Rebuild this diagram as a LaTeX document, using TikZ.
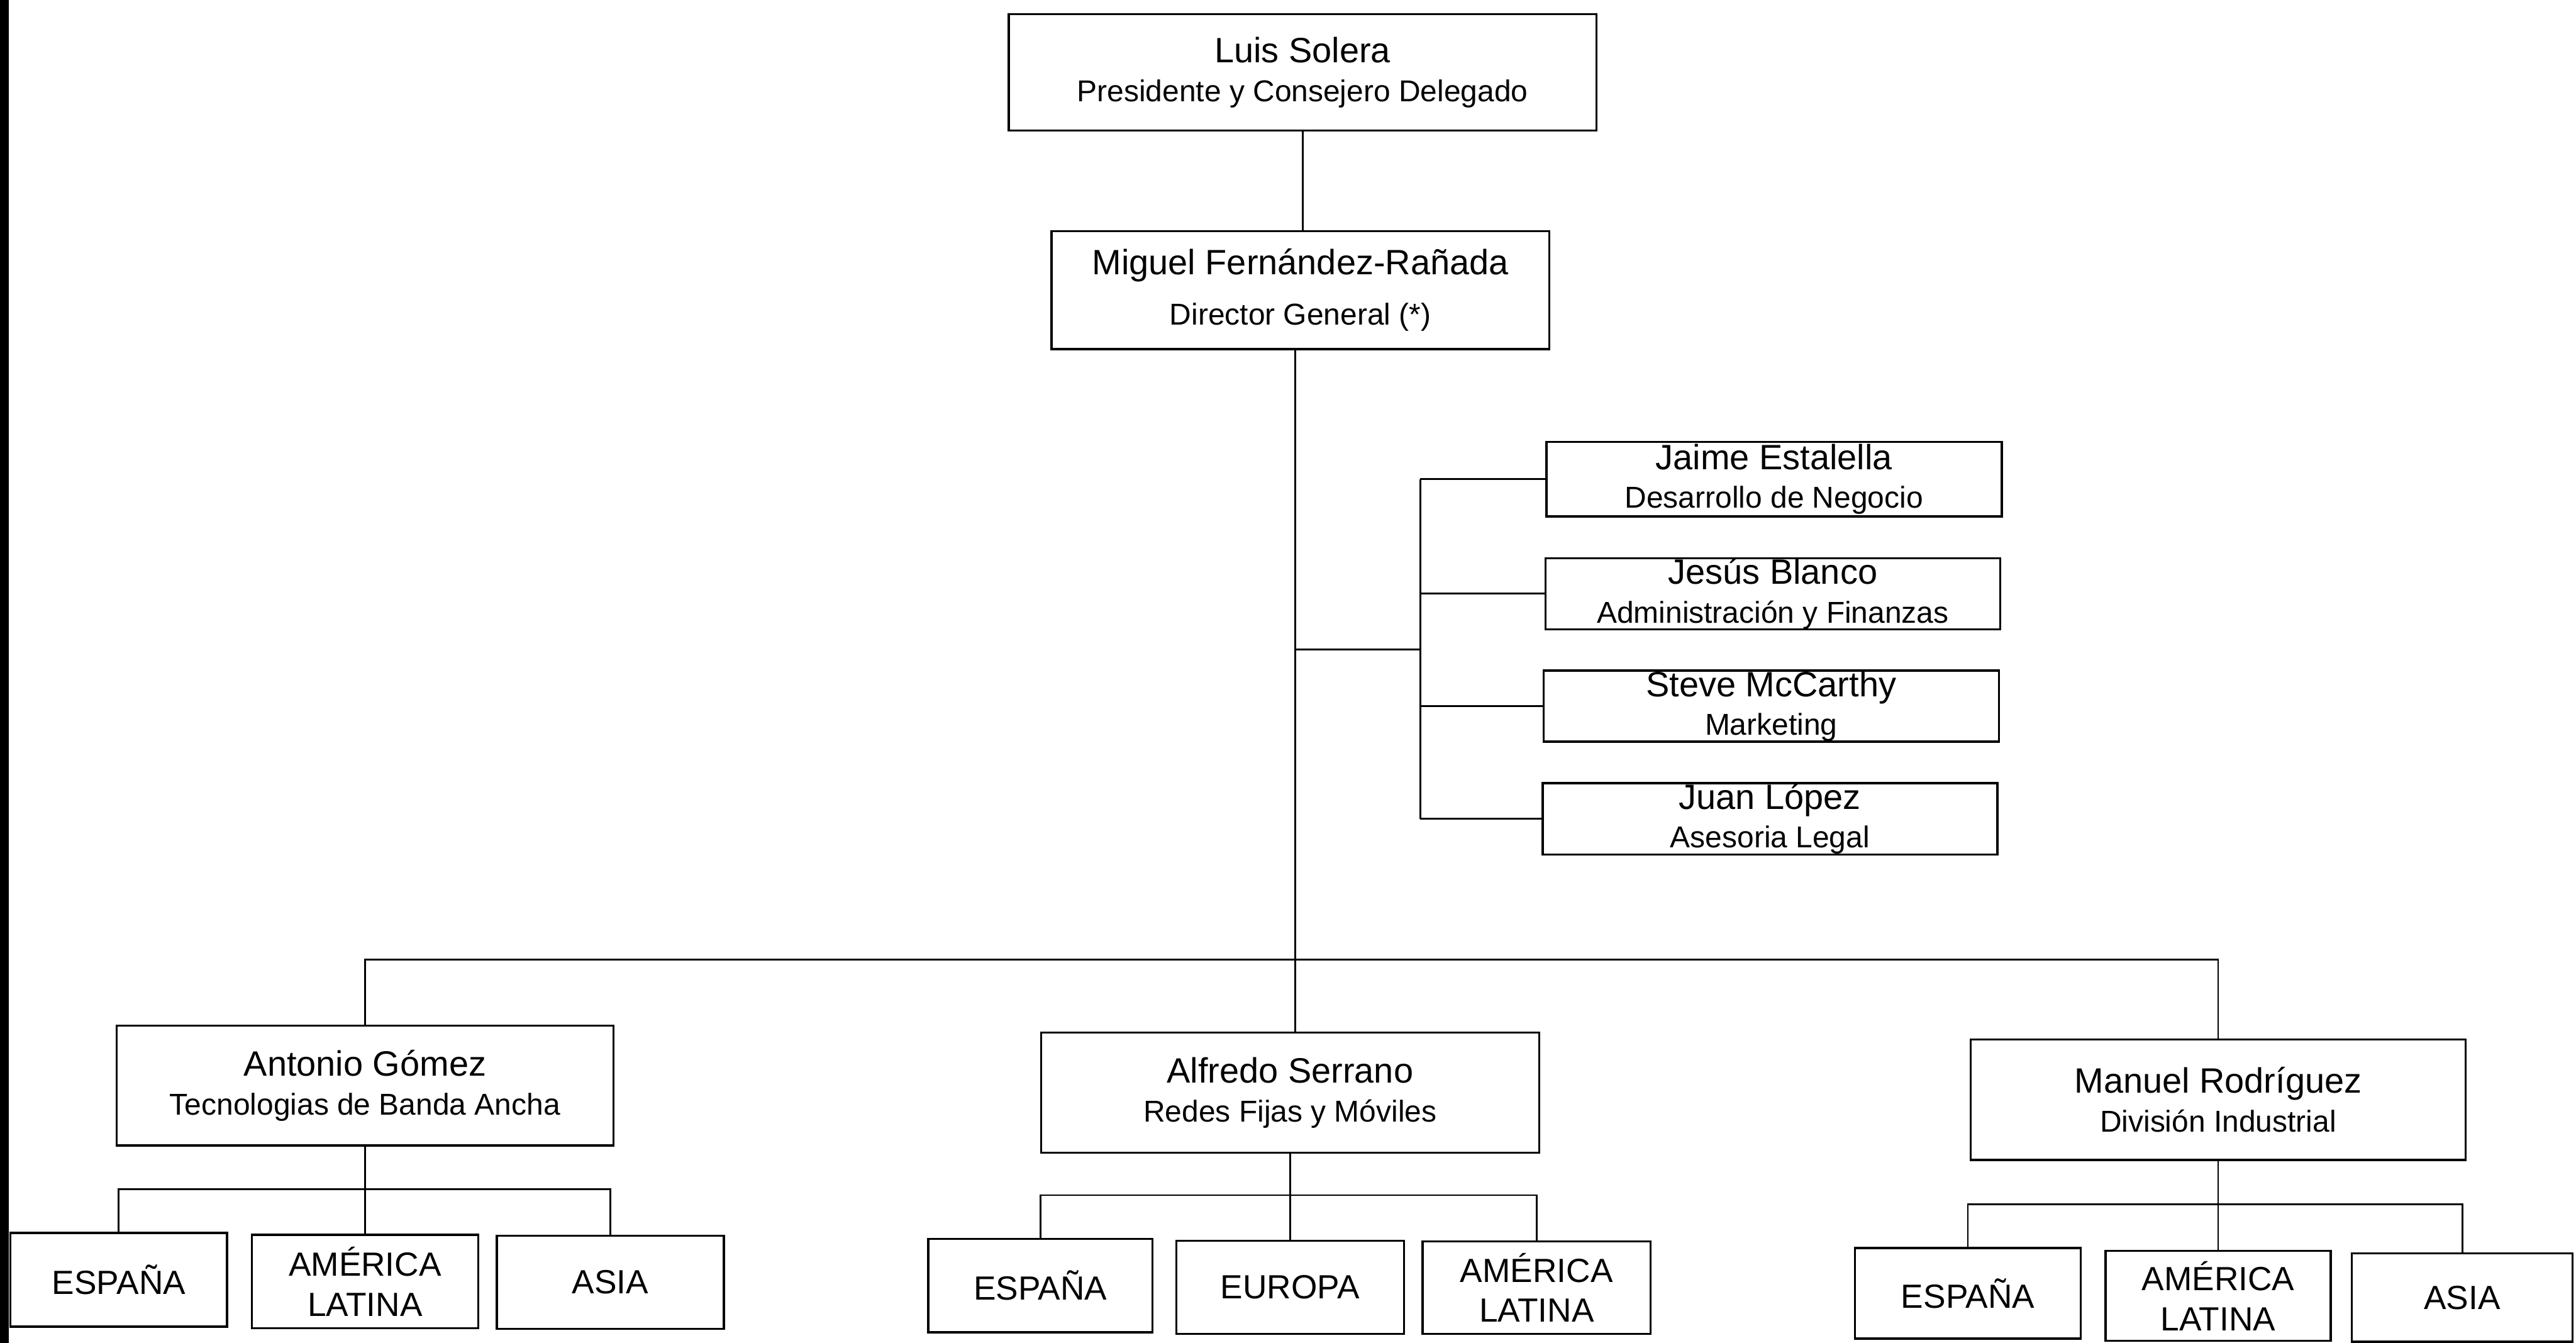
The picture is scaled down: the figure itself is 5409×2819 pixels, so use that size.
\documentclass[tikz,border=0pt]{standalone}
\usepackage{fontspec}
\setmainfont{Liberation Sans}
\newcommand\pname[1]{{\fontsize{21}{23}\selectfont #1}}
\newcommand\orgbox[7]{%
  \pgfmathsetmacro\orgbw{(#5-#3)*0.01}%
  \pgfmathsetmacro\orgbh{(#6-#4)*0.01}%
  \node[#1, minimum width=\orgbw cm, minimum height=\orgbh cm] (#2) at ({(#3+#5)/2},{(#4+#6)/2}) {#7};}
\begin{document}
\begin{tikzpicture}[x=0.01cm, y=-0.01cm,
  box/.style={draw, line width=1.3pt, inner sep=0pt, align=center, font=\fontsize{18}{23}\selectfont},
  region/.style={draw, line width=1.3pt, inner sep=0pt, align=center, font=\fontsize{20}{24}\selectfont},
  conn/.style={line width=1.1pt}]
\useasboundingbox (0,0) rectangle (5409,2819);
\fill[black] (0,0) rectangle (19,2819);

% top
\orgbox{box}{luis}{2118}{30}{3352}{274}{\pname{Luis Solera}\\Presidente y Consejero Delegado}
\orgbox{box}{miguel}{2208}{485}{3253}{733}{\pname{Miguel Fernández-Rañada}\\[7pt]Director General (*)}

% staff
\orgbox{box}{jaime}{3247}{928}{4203}{1084}{\pname{Jaime Estalella}\\Desarrollo de Negocio}
\orgbox{box}{jesus}{3245}{1172}{4200}{1321}{\pname{Jesús Blanco}\\Administración y Finanzas}
\orgbox{box}{steve}{3241}{1408}{4197}{1557}{\pname{Steve McCarthy}\\Marketing}
\orgbox{box}{juan}{3239}{1644}{4194}{1794}{\pname{Juan López}\\Asesoria Legal}

% divisions
\orgbox{box}{antonio}{245}{2153}{1288}{2405}{\pname{Antonio Gómez}\\Tecnologias de Banda Ancha}
\orgbox{box}{alfredo}{2186}{2168}{3232}{2420}{\pname{Alfredo Serrano}\\Redes Fijas y Móviles}
\orgbox{box}{manuel}{4138}{2182}{5177}{2435}{\pname{Manuel Rodríguez}\\División Industrial}

% regions
\orgbox{region}{aesp}{22}{2588}{477}{2785}{ESPAÑA}
\orgbox{region}{aame}{529}{2592}{1004}{2788}{AMÉRICA\\LATINA}
\orgbox{region}{aasi}{1043}{2594}{1520}{2790}{ASIA}
\orgbox{region}{besp}{1949}{2601}{2420}{2797}{ESPAÑA}
\orgbox{region}{beur}{2470}{2605}{2948}{2800}{EUROPA}
\orgbox{region}{bame}{2987}{2606}{3466}{2800}{AMÉRICA\\LATINA}
\orgbox{region}{cesp}{3895}{2620}{4369}{2810}{ESPAÑA}
\orgbox{region}{came}{4421}{2626}{4894}{2815}{AMÉRICA\\LATINA}
\orgbox{region}{casi}{4938}{2631}{5402}{2817}{ASIA}

% helper coordinates
\coordinate (mainx) at (2720,0);
\coordinate (busx) at (2982,0);
\coordinate (branch) at (0,1363);
\coordinate (bar) at (0,2015);
\coordinate (suba) at (0,2496);
\coordinate (subb) at (0,2509);
\coordinate (subc) at (0,2528);

% connectors
\draw[conn] (luis.south) -- (luis.south |- miguel.north);
\draw[conn] (miguel.south -| mainx) -- (alfredo.north -| mainx);
\draw[conn] (branch -| mainx) -- (branch -| busx);
\draw[conn] (jaime.west -| busx) -- (juan.west -| busx);
\foreach \s in {jaime,jesus,steve,juan} \draw[conn] (\s.west -| busx) -- (\s.west);
\draw[conn] (antonio.north) -- (antonio.north |- bar) -- (manuel.north |- bar) -- (manuel.north);

\draw[conn] (antonio.south) -- (aame.north);
\draw[conn] (aesp.north) -- (aesp.north |- suba) -- (aasi.north |- suba) -- (aasi.north);
\draw[conn] (alfredo.south) -- (beur.north);
\draw[conn] (besp.north) -- (besp.north |- subb) -- (bame.north |- subb) -- (bame.north);
\draw[conn] (manuel.south) -- (came.north);
\draw[conn] (cesp.north) -- (cesp.north |- subc) -- (casi.north |- subc) -- (casi.north);
\end{tikzpicture}
\end{document}
